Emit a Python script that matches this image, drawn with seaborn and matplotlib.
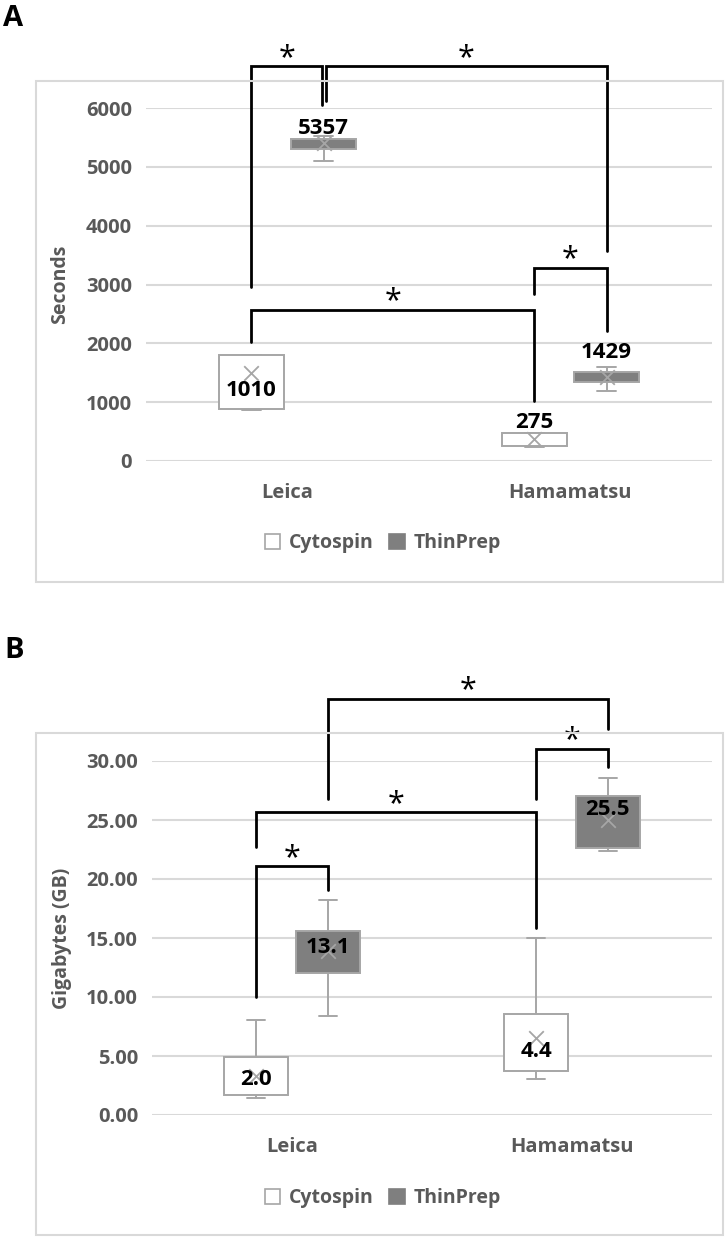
import numpy as np
import pandas as pd
import matplotlib
matplotlib.use("Agg")
import matplotlib.pyplot as plt
import seaborn as sns
from matplotlib.patches import Patch, Rectangle

# ---------------- data ----------------
scanners = ["Leica", "Hamamatsu"]
preps = ["Cytospin", "ThinPrep"]

# Panel A (seconds): five-number summaries [min, q1, median, q3, max]
sec_leica_cyto = [860, 885, 1010, 1810, 1810]
sec_leica_thin = [5100, 5305, 5357, 5478, 5530]
sec_hama_cyto = [240, 262, 275, 470, 470]
sec_hama_thin = [1190, 1347, 1429, 1516, 1594]
# order: Leica-Cytospin, Leica-ThinPrep, Hamamatsu-Cytospin, Hamamatsu-ThinPrep
sec_means = [1500, 5400, 370, 1425]
sec_labels = ["1010", "5357", "275", "1429"]
sec_ticks = [0, 1000, 2000, 3000, 4000, 5000, 6000]

# Panel B (gigabytes)
gb_leica_cyto = [1.48, 1.69, 1.97, 4.94, 8.01]
gb_leica_thin = [8.39, 12.02, 13.1, 15.61, 18.23]
gb_hama_cyto = [3.04, 3.73, 4.39, 8.56, 14.99]
gb_hama_thin = [22.41, 22.65, 25.5, 27.07, 28.52]
gb_means = [3.28, 13.9, 6.56, 25.0]
gb_labels = ["2.0", "13.1", "4.4", "25.5"]
gb_ticks = [0, 5, 10, 15, 20, 25, 30]

# ---------------- layout (positions) ----------------
sec_label_y = [1204, 5660, 651, 1841]
gb_label_y = [2.97, 14.2, 5.38, 25.9]
# brackets: (group i, group j, bar height, left leg end, right leg end, x-nudge i, x-nudge j)
sec_brackets = [
    (0, 2, 2570, 2030, 1028, 0, 0),
    (2, 3, 3286, 2843, 2212, 0, 0),
    (0, 1, 6714, 2960, 6050, 0, -0.006),
    (1, 3, 6714, 6122, 3565, 0.007, 0),
]
gb_brackets = [
    (0, 1, 21.06, 10.01, 19.1, 0, 0),
    (0, 2, 25.66, 22.72, 15.88, 0, 0),
    (2, 3, 31.04, 26.76, 29.52, 0, 0),
    (1, 3, 35.29, 26.76, 32.7, 0, 0),
]

sns.set_theme(style="white")
plt.rcParams["font.family"] = ["Open Sans", "DejaVu Sans"]

W, H = 727, 1239
fig = plt.figure(figsize=(W / 100, H / 100), dpi=100)

GRAY_TXT = "#595959"
EDGE = "#a6a6a6"
DARK = "#7f7f7f"
BOX_W = 0.51
CAP_W = 0.065


def make_df(groups):
    rows = []
    for (s, p), vals in groups:
        for v in vals:
            rows.append({"Scanner": s, "Prep": p, "Value": v})
    return pd.DataFrame(rows)


def draw_boxes(ax, df):
    kws = dict(data=df, x="Scanner", y="Value", hue="Prep", order=scanners,
               hue_order=preps, palette={"Cytospin": "white", "ThinPrep": DARK},
               saturation=1, whis=np.inf, width=BOX_W, gap=0.1, linecolor=EDGE,
               linewidth=1.4, legend=False, ax=ax,
               medianprops={"color": EDGE, "linewidth": 1.4},
               boxprops={"zorder": 3}, whiskerprops={"zorder": 2},
               capprops={"zorder": 2})
    try:
        sns.boxplot(capwidths=CAP_W, **kws)
    except TypeError:
        for ln in list(ax.lines):
            ln.remove()
        for p in list(ax.patches):
            p.remove()
        sns.boxplot(**kws)


def panel(rect_px, border_px, groups, means, labels, label_y, brackets,
          ticks, tickfmt, ylabel, ylabel_x, letter, letter_xy, legend_y, ymax):
    l, t, r, b = rect_px
    ax = fig.add_axes([l / W, 1 - b / H, (r - l) / W, (b - t) / H])
    bl, bt, br, bb = border_px
    fig.patches.append(Rectangle((bl / W, 1 - bb / H), (br - bl) / W, (bb - bt) / H,
                                 transform=fig.transFigure, fill=False,
                                 edgecolor="#d9d9d9", linewidth=1.5, zorder=0))
    draw_boxes(ax, make_df(groups))
    # positions of the four boxes
    xs = []
    for ci in range(len(scanners)):
        for hi in range(len(preps)):
            xs.append(ci + (hi - 0.5) * BOX_W / 2)
    sns.scatterplot(x=xs, y=means, marker="x", s=110, color=EDGE,
                    linewidth=1.3, ax=ax, zorder=5, legend=False)
    for x, ly, txt in zip(xs, label_y, labels):
        ax.text(x, ly, txt, ha="center", va="center", fontsize=16,
                fontweight="bold", color="black", zorder=6)
    for (i, j, top, le, re, ni, nj) in brackets:
        xi, xj = xs[i] + ni, xs[j] + nj
        ax.plot([xi, xi, xj, xj], [le, top, top, re], color="black",
                linewidth=2.0, clip_on=False, zorder=7, solid_joinstyle="miter")
        ax.annotate("*", xy=((xi + xj) / 2, top), xytext=(0, 6),
                    textcoords="offset points", ha="center", va="center",
                    fontsize=22, color="black", annotation_clip=False)
    ax.set_xlim(-0.5, 1.5)
    ax.set_ylim(0, ymax)
    ax.set_yticks(ticks)
    ax.set_yticklabels([tickfmt(v) for v in ticks])
    ax.grid(axis="y", color="#d9d9d9", linewidth=1.5)
    ax.set_axisbelow(True)
    for s in ax.spines.values():
        s.set_visible(False)
    ax.tick_params(axis="both", length=0, labelsize=14.5, labelcolor=GRAY_TXT)
    ax.tick_params(axis="y", pad=10)
    ax.tick_params(axis="x", pad=16)
    for lab in ax.get_xticklabels() + ax.get_yticklabels():
        lab.set_fontweight("bold")
    ax.set_xlabel("")
    ax.set_ylabel(ylabel, fontsize=14, fontweight="bold", color=GRAY_TXT)
    ax.yaxis.set_label_coords((ylabel_x - l) / (r - l), 0.5)
    fig.text(letter_xy[0] / W, 1 - letter_xy[1] / H, letter, fontsize=21,
             fontweight="bold", color="black", ha="left", va="center")
    handles = [Patch(facecolor="white", edgecolor=EDGE, linewidth=1.2, label="Cytospin"),
               Patch(facecolor=DARK, edgecolor=DARK, linewidth=1.2, label="ThinPrep")]
    leg = fig.legend(handles=handles, loc="center", bbox_to_anchor=(383 / W, 1 - legend_y / H),
                     ncol=2, frameon=False, fontsize=14, handlelength=0.8,
                     handleheight=0.8, handletextpad=0.45, columnspacing=0.8)
    for txt in leg.get_texts():
        txt.set_color(GRAY_TXT)
        txt.set_fontweight("bold")
    return ax


panel((146, 108, 712, 461), (36, 81, 723, 582),
      [(("Leica", "Cytospin"), sec_leica_cyto), (("Leica", "ThinPrep"), sec_leica_thin),
       (("Hamamatsu", "Cytospin"), sec_hama_cyto), (("Hamamatsu", "ThinPrep"), sec_hama_thin)],
      sec_means, sec_labels, sec_label_y, sec_brackets, sec_ticks,
      lambda v: f"{v:d}", "Seconds", 70, "A", (3, 19), 543, 6000)

panel((152, 761, 712, 1115), (36, 733, 723, 1235),
      [(("Leica", "Cytospin"), gb_leica_cyto), (("Leica", "ThinPrep"), gb_leica_thin),
       (("Hamamatsu", "Cytospin"), gb_hama_cyto), (("Hamamatsu", "ThinPrep"), gb_hama_thin)],
      gb_means, gb_labels, gb_label_y, gb_brackets, gb_ticks,
      lambda v: f"{v:.2f}", "Gigabytes (GB)", 72, "B", (4, 650), 1198, 30)

fig.savefig("out.png", dpi=100)
